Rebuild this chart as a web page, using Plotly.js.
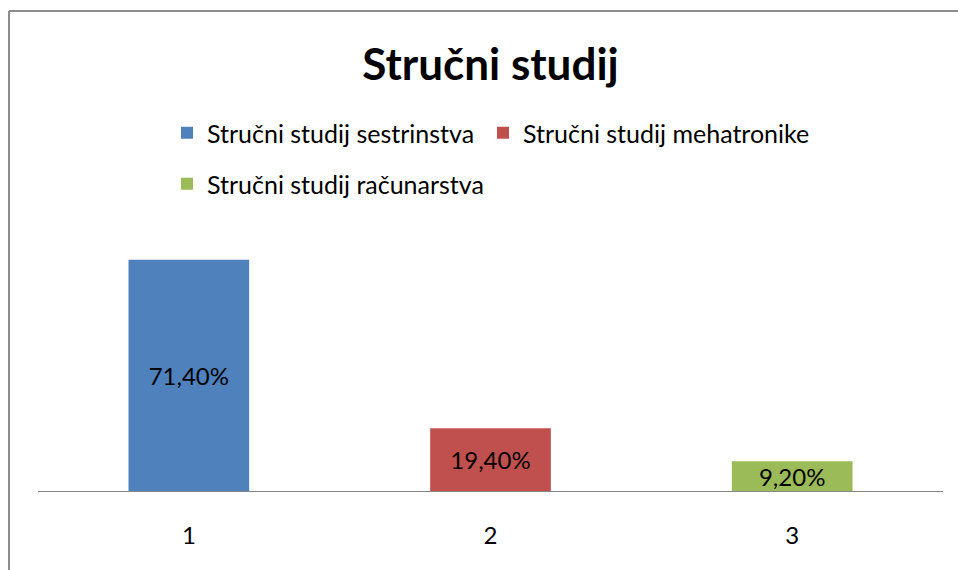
<!DOCTYPE html>
<html>
<head>
<meta charset="utf-8">
<script src="https://cdn.plot.ly/plotly-3.0.1.min.js"></script>
<style>html,body{margin:0;padding:0;background:#fff;}#chart{width:958px;height:570px;}</style>
</head>
<body>
<div id="chart"></div>
<script>
const categories = ['1', '2', '3'];
const seriesNames = ['Stručni studij sestrinstva', 'Stručni studij mehatronike', 'Stručni studij računarstva'];
const seriesValues = [71.4, 19.4, 9.2];
const valueLabels = ['71,40%', '19,40%', '9,20%'];
const seriesColors = ['#4F81BD', '#C0504D', '#9BBB59'];
const legendIds = ['legend', 'legend', 'legend2'];

const FONT = 'Lato, "Open Sans", sans-serif';

const traces = categories.map((c, i) => ({
  type: 'bar',
  name: seriesNames[i],
  x: [c],
  y: [seriesValues[i]],
  text: [valueLabels[i]],
  textposition: 'inside',
  insidetextanchor: 'middle',
  constraintext: 'none',
  textfont: {family: FONT, size: 24, color: '#000'},
  marker: {color: seriesColors[i], line: {width: 0}},
  legend: legendIds[i],
  legendwidth: i === 0 ? 271 : 330,
  hoverinfo: 'skip'
}));

const W = 958, H = 570;
const mL = 38, mR = 15, mT = 232, mB = 79;
const pw = W - mL - mR, ph = H - mT - mB;
const px = v => (v - mL) / pw;
const py = v => (H - mB - v) / ph;

const layout = {
  width: W, height: H,
  margin: {l: mL, r: mR, t: mT, b: mB, pad: 0},
  paper_bgcolor: '#fff', plot_bgcolor: '#fff',
  barmode: 'overlay',
  bargap: 0.6,
  font: {family: FONT, color: '#000'},
  title: {
    text: '<b>Stručni studij</b>',
    font: {family: FONT, size: 44, color: '#000'},
    x: 0.5, xref: 'paper', xanchor: 'center',
    y: 1 - 65 / H, yref: 'container', yanchor: 'middle'
  },
  xaxis: {
    type: 'category',
    range: [-0.5, 2.5],
    showline: true, linecolor: '#868686', linewidth: 1,
    ticks: '', showgrid: false, zeroline: false,
    tickfont: {family: FONT, size: 24, color: '#000'},
    ticklabelstandoff: 23,
    fixedrange: true
  },
  yaxis: {
    range: [0, 80],
    visible: false, showgrid: false, zeroline: false,
    fixedrange: true
  },
  showlegend: true,
  legend: {
    orientation: 'h',
    xref: 'container', x: 167 / W, xanchor: 'left',
    yref: 'container', y: 1 - 133 / H, yanchor: 'middle',
    font: {family: FONT, size: 25, color: '#000'},
    bgcolor: 'rgba(0,0,0,0)', borderwidth: 0,
    itemclick: false, itemdoubleclick: false
  },
  legend2: {
    orientation: 'h',
    xref: 'container', x: 167 / W, xanchor: 'left',
    yref: 'container', y: 1 - 184 / H, yanchor: 'middle',
    font: {family: FONT, size: 25, color: '#000'},
    bgcolor: 'rgba(0,0,0,0)', borderwidth: 0,
    itemclick: false, itemdoubleclick: false
  },
  shapes: [
    {type: 'line', xref: 'paper', yref: 'paper', x0: px(9), x1: px(975), y0: py(11), y1: py(11), line: {color: '#8c8c8c', width: 2}},
    {type: 'line', xref: 'paper', yref: 'paper', x0: px(9), x1: px(9), y0: py(11), y1: py(590), line: {color: '#8c8c8c', width: 2}}
  ]
};

Plotly.newPlot('chart', traces, layout, {displayModeBar: false, staticPlot: true});
</script>
</body>
</html>
